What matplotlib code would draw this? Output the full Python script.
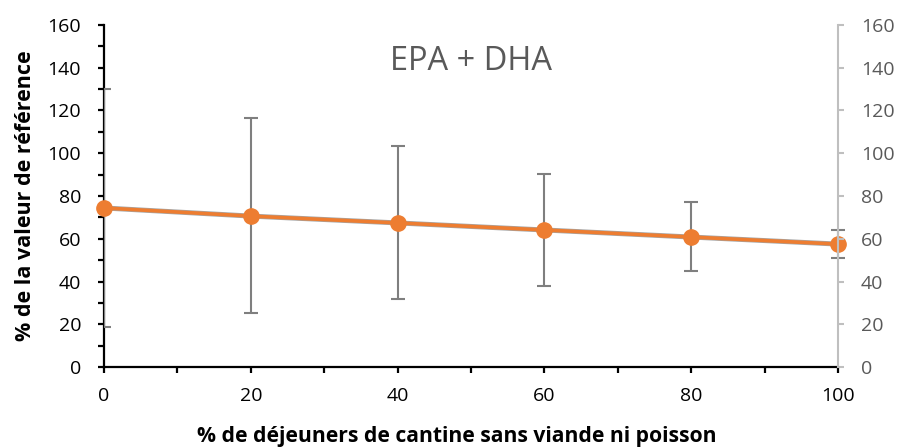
import matplotlib.pyplot as plt
from matplotlib.ticker import MultipleLocator

# share of meatless/fishless canteen lunches vs EPA+DHA intake (% of reference)
pct_meatless = [0, 20, 40, 60, 80, 100]
epa_dha = [74.4, 70.6, 67.4, 64.1, 60.8, 57.5]
err_low = [55.7, 45.3, 35.6, 26.2, 15.9, 6.5]
err_high = [55.6, 45.9, 36.0, 26.2, 16.4, 6.6]

orange = "#ED7D31"
grey = "#595959"
light = "#BFBFBF"

plt.rcParams['font.family'] = ['Open Sans', 'DejaVu Sans']

fig = plt.figure(figsize=(8.99, 4.48), dpi=100)
ax = fig.add_axes([0.1157, 0.1808, 0.8164, 0.7634])

# first bar sits on the left spine and gets clipped there
eb = dict(fmt='none', ecolor="#7F7F7F", elinewidth=1.5, capsize=5,
          capthick=1.5, zorder=4)
ax.errorbar(pct_meatless[:1], epa_dha[:1],
            yerr=[err_low[:1], err_high[:1]], clip_on=True, **eb)
ax.errorbar(pct_meatless[1:], epa_dha[1:],
            yerr=[err_low[1:], err_high[1:]], clip_on=False, **eb)
ax.plot(pct_meatless, epa_dha, color="#A5A5A5", lw=3.6, zorder=5, clip_on=False)
ax.plot(pct_meatless, epa_dha, color=orange, lw=2.6, marker='o', ms=11,
        zorder=6, clip_on=False)

ax.set_xlim(0, 100)
ax.set_ylim(0, 160)
ax.xaxis.set_major_locator(MultipleLocator(20))
ax.xaxis.set_minor_locator(MultipleLocator(10))
ax.yaxis.set_major_locator(MultipleLocator(20))
ax.yaxis.set_minor_locator(MultipleLocator(10))

for side in ('top', 'right'):
    ax.spines[side].set_visible(False)
ax.spines['left'].set_linewidth(1.6)
ax.spines['bottom'].set_linewidth(1.6)
ax.tick_params(which='major', direction='out', length=4.5, width=1.6,
               labelsize=14, colors='black')
ax.tick_params(which='minor', direction='out', length=4.5, width=1.6)
ax.tick_params(axis='y', pad=12)
ax.tick_params(axis='x', pad=10)

# secondary axis on the right, same scale
ax2 = ax.twinx()
ax2.set_ylim(0, 160)
ax2.yaxis.set_major_locator(MultipleLocator(20))
for side in ('top', 'left', 'bottom'):
    ax2.spines[side].set_visible(False)
ax2.spines['right'].set_color(light)
ax2.spines['right'].set_linewidth(1.5)
ax2.tick_params(axis='y', direction='out', length=4.5, width=1.5,
                color=light, labelcolor=grey, labelsize=14, pad=12)

ax.set_xlabel("% de déjeuners de cantine sans viande ni poisson",
              fontsize=15.2, fontweight='bold', labelpad=15)
ax.xaxis.label.set_x(0.48)
ax.set_ylabel("% de la valeur de référence", fontsize=15.5, fontweight='bold',
              labelpad=8)
ax.text(0.5, 0.893, "EPA + DHA", transform=ax.transAxes, ha='center',
        va='center', fontsize=23.5, color=grey)

fig.savefig("out.png", dpi=100)
